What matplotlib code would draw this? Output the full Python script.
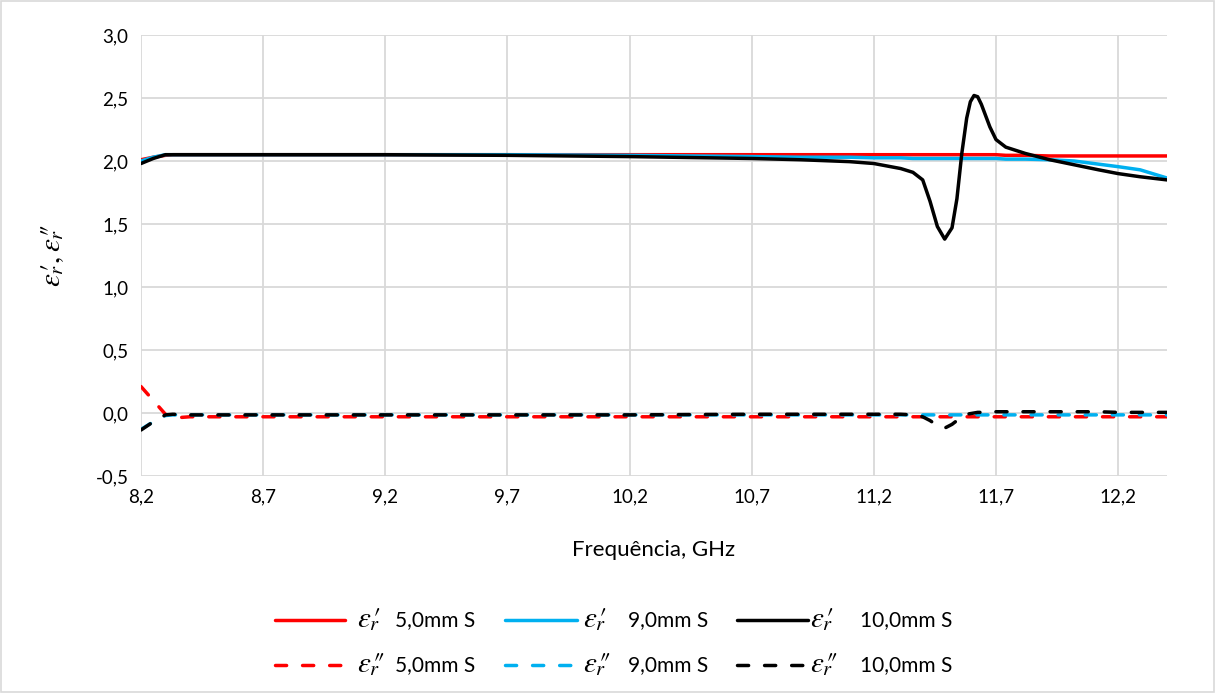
import numpy as np
import matplotlib
matplotlib.use('Agg')
import matplotlib.pyplot as plt
from matplotlib.lines import Line2D
from matplotlib.ticker import FuncFormatter

plt.rcParams['font.family'] = ['Lato', 'DejaVu Sans']
plt.rcParams['mathtext.fontset'] = 'stix'

# frequências (GHz)
freq = [8.20, 8.25, 8.30, 8.33, 8.40, 8.70, 9.20, 9.70, 10.20, 10.70, 10.90, 11.10, 11.20,
        11.31, 11.36, 11.40, 11.43, 11.46, 11.49, 11.52, 11.54, 11.56, 11.58, 11.595, 11.61,
        11.625, 11.64, 11.675, 11.70, 11.74, 11.82, 11.92, 12.02, 12.12, 12.20, 12.29, 12.40]
# permissividade real (ε')
e1_5mm = [2.01, 2.03, 2.045, 2.05, 2.05, 2.05, 2.05, 2.05, 2.05, 2.05, 2.05, 2.05, 2.05,
          2.05, 2.05, 2.05, 2.05, 2.05, 2.05, 2.05, 2.05, 2.05, 2.05, 2.05, 2.05,
          2.05, 2.05, 2.05, 2.05, 2.045, 2.045, 2.04, 2.04, 2.04, 2.04, 2.04, 2.04]
e1_9mm = [2.00, 2.03, 2.05, 2.05, 2.05, 2.05, 2.05, 2.05, 2.045, 2.035, 2.03, 2.03, 2.025,
          2.025, 2.02, 2.02, 2.02, 2.02, 2.02, 2.02, 2.02, 2.02, 2.02, 2.02, 2.02,
          2.02, 2.02, 2.02, 2.02, 2.015, 2.015, 2.01, 2.00, 1.975, 1.955, 1.93, 1.865]
e1_10mm = [1.98, 2.02, 2.05, 2.05, 2.05, 2.05, 2.05, 2.045, 2.035, 2.02, 2.01, 1.995, 1.98,
           1.94, 1.91, 1.85, 1.68, 1.48, 1.38, 1.47, 1.70, 2.06, 2.34, 2.47, 2.52,
           2.51, 2.45, 2.27, 2.17, 2.11, 2.06, 2.01, 1.97, 1.93, 1.90, 1.875, 1.85]
# permissividade imaginária (ε'')
e2_5mm = [0.21, 0.10, -0.01, -0.04, -0.03, -0.03, -0.03, -0.03, -0.03, -0.03, -0.03, -0.03, -0.03,
          -0.03, -0.03, -0.03, -0.03, -0.03, -0.03, -0.03, -0.03, -0.03, -0.03, -0.03, -0.03,
          -0.03, -0.03, -0.03, -0.03, -0.03, -0.03, -0.03, -0.03, -0.03, -0.03, -0.03, -0.03]
e2_9mm = [-0.13, -0.07, -0.02, -0.015, -0.015, -0.015, -0.015, -0.015, -0.015, -0.015, -0.015, -0.015, -0.015,
          -0.015, -0.015, -0.015, -0.015, -0.015, -0.015, -0.015, -0.015, -0.015, -0.015, -0.015, -0.015,
          -0.015, -0.015, -0.015, -0.015, -0.015, -0.015, -0.015, -0.015, -0.015, -0.015, -0.015, -0.015]
e2_10mm = [-0.135, -0.07, -0.015, -0.01, -0.015, -0.015, -0.015, -0.015, -0.015, -0.01, -0.01, -0.01, -0.01,
           -0.01, -0.015, -0.03, -0.06, -0.10, -0.12, -0.09, -0.06, -0.03, -0.01, -0.005, 0.00,
           0.005, 0.005, 0.01, 0.01, 0.01, 0.01, 0.01, 0.01, 0.01, 0.005, 0.005, 0.005]

RED, BLUE, BLACK = '#ff0000', '#00b0f0', '#000000'
W, H = 1216, 693

fig = plt.figure(figsize=(W / 100, H / 100), dpi=100)
ax = fig.add_axes([141 / W, 1 - 476 / H, 1026 / W, 441 / H])

P1, P2 = '\u2032', '\u2033'
series = [
    (e1_5mm, RED, '-', P1, '5,0mm S'),
    (e1_9mm, BLUE, '-', P1, '9,0mm S'),
    (e1_10mm, BLACK, '-', P1, '10,0mm S'),
    (e2_5mm, RED, '--', P2, '5,0mm S'),
    (e2_9mm, BLUE, '--', P2, '9,0mm S'),
    (e2_10mm, BLACK, '--', P2, '10,0mm S'),
]
DASH = (3.2, 4.6)
for vals, c, ls, pr, lab in series:
    ax.plot(freq, vals, color=c, linewidth=2.5, solid_capstyle='round', dash_capstyle='round',
            solid_joinstyle='round', **({'dashes': DASH} if ls == '--' else {}))


def eps(pr):
    # ε com o r em baixo e a linha (′/″) por cima
    return f"$\\varepsilon_r\\!\\!{pr}$"


ax.set_xlim(8.2, 12.4)
ax.set_ylim(-0.5, 3.0)
ax.set_xticks(np.arange(8.2, 12.3, 0.5))
ax.set_yticks(np.arange(-0.5, 3.01, 0.5))
comma = FuncFormatter(lambda v, p: f"{v:.1f}".replace('.', ','))
ax.xaxis.set_major_formatter(comma)
ax.yaxis.set_major_formatter(comma)
ax.grid(True, color='#d9d9d9', linewidth=1.3)
ax.set_axisbelow(True)
for s in ax.spines.values():
    s.set_visible(False)
ax.tick_params(length=0, labelsize=13.5, colors='#000000', pad=9)

ax.set_xlabel('Frequência, GHz', fontsize=16, labelpad=25)
ax.set_ylabel(f"$\\varepsilon_r\\!\\!{P1}, \\varepsilon_r\\!\\!{P2}$", fontsize=21, labelpad=21)

# legenda em duas linhas (ε' em cima, ε'' em baixo)
rows_y = [620, 665]
cols = [(275, 345, 357, 395), (505, 577, 583, 628), (737, 808, 810, 860)]
for i, (vals, c, ls, pr, lab) in enumerate(series):
    r, k = divmod(i, 3)
    x0, x1, xe, xt = cols[k]
    y = 1 - rows_y[r] / H
    fig.add_artist(Line2D([x0 / W, x1 / W], [y, y], transform=fig.transFigure, color=c,
                          linewidth=2.5, solid_capstyle='round', dash_capstyle='round',
                          **({'dashes': DASH} if ls == '--' else {})))
    fig.text(xe / W, y, eps(pr), fontsize=21, va='center', ha='left')
    fig.text(xt / W, y, lab, fontsize=15, va='center', ha='left')

fig.patches.append(plt.Rectangle((0.001, 0.001), 0.997, 0.997, transform=fig.transFigure,
                                 fill=False, edgecolor='#d9d9d9', linewidth=1.2))

fig.savefig('out.png', dpi=100)
